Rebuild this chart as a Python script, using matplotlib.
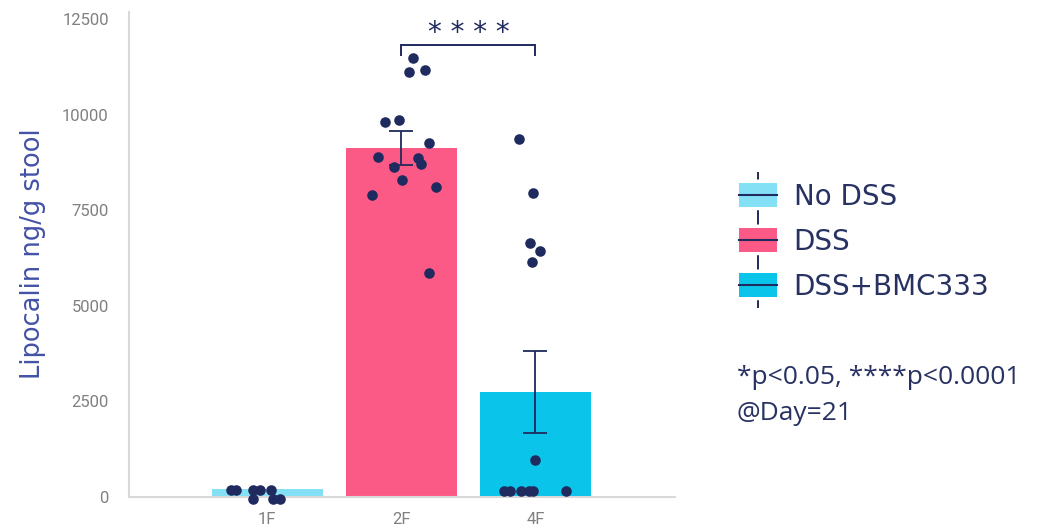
import matplotlib
matplotlib.use("Agg")
import matplotlib.pyplot as plt
import numpy as np
from matplotlib.patches import Patch, Rectangle
from matplotlib.lines import Line2D
from matplotlib.legend_handler import HandlerBase

# ---- data -------------------------------------------------------------
categories = ["1F", "2F", "4F"]
groups = ["No DSS", "DSS", "DSS+BMC333"]
means = [210, 9130, 2740]
sems = [0, 450, 1065]

points_1f = [175, 175, 175, 175, -52, 175, -40, -52]
points_2f = [11472, 11106, 11174, 9806, 9859, 9249, 8899, 8857, 8638, 8700,
             8298, 8107, 7897, 5866]
points_4f = [9362, 7942, 6634, 6425, 6137, 976, 160, 160, 160, 160, 160, 160]

# horizontal jitter of the individual dots (in category units)
jitter_1f = [-0.27, -0.23, -0.106, -0.057, -0.106, 0.03, 0.042, 0.097]
jitter_2f = [0.088, 0.056, 0.173, -0.121, -0.016, 0.205, -0.175, 0.123,
             -0.056, 0.150, 0.004, 0.257, -0.22, 0.203]
jitter_4f = [-0.121, -0.021, -0.041, 0.031, -0.026, -0.001, -0.235, -0.19,
             -0.11, -0.046, -0.016, 0.227]

sig_pair = ("2F", "4F")
sig_label = "* * * *"
sig_height = 11820

yticks = [0, 2500, 5000, 7500, 10000, 12500]

# ---- style ------------------------------------------------------------
bar_colors = ["#84E1F5", "#FC5A86", "#0BC4EA"]
navy = "#1F2A5E"
text_navy = "#283262"
axis_gray = "#D9D9D9"
tick_gray = "#808080"
label_blue = "#4352A6"

W, H = 1053, 529
fig = plt.figure(figsize=(W / 100, H / 100), dpi=100)
ax = fig.add_axes([129 / W, 1 - 497 / H, (675 - 129) / W, (497 - 12) / H])

x = np.arange(1, len(categories) + 1)
ax.bar(x, means, width=0.83, color=bar_colors, zorder=1)
ax.errorbar(x[1:], means[1:], yerr=sems[1:], fmt="none", ecolor=navy,
            elinewidth=1.3, capsize=8.3, capthick=1.3, zorder=2)

for xi, pts, jit in zip(x, [points_1f, points_2f, points_4f],
                        [jitter_1f, jitter_2f, jitter_4f]):
    ax.scatter(xi + np.array(jit), pts, s=58, color=navy, zorder=3,
               linewidths=0, clip_on=False)

# significance bracket
x1 = x[categories.index(sig_pair[0])]
x2 = x[categories.index(sig_pair[1])]
drop = 260
ax.plot([x1, x1, x2, x2], [sig_height - drop, sig_height, sig_height,
        sig_height - drop], color=navy, lw=1.4, zorder=3,
        solid_joinstyle="miter", clip_on=False)
ax.text((x1 + x2) / 2, sig_height + 110, sig_label, ha="center",
        va="baseline", fontsize=20, color=navy, family="DejaVu Sans")

ax.set_xlim(-0.03, 4.04)
ax.set_ylim(0, 12683)
ax.set_xticks(x)
ax.set_xticklabels(categories)
ax.set_yticks(yticks)
ax.set_yticklabels([str(v) for v in yticks])
ax.tick_params(length=0, labelsize=12, labelcolor=tick_gray)
ax.tick_params(axis="y", pad=14.5)
ax.tick_params(axis="x", pad=11)
for lab in ax.get_xticklabels() + ax.get_yticklabels():
    lab.set_family("Roboto")
for side in ("top", "right"):
    ax.spines[side].set_visible(False)
for side in ("left", "bottom"):
    ax.spines[side].set_color(axis_gray)
    ax.spines[side].set_linewidth(1.5)

fig.text(33 / W, 1 - 254 / H, "Lipocalin ng/g stool", rotation=90,
         ha="center", va="center", fontsize=18.5, color=label_blue,
         family="DejaVu Sans")


# legend glyph: coloured box with a median line and a dashed whisker
class BoxHandler(HandlerBase):
    def create_artists(self, legend, orig_handle, xdescent, ydescent,
                       width, height, fontsize, trans):
        px = 0.72
        cx = -xdescent + width / 2
        cy = -ydescent + height / 2
        bh = 24 * px
        wh = 22.75 * px
        whisker = Line2D([cx, cx], [cy - wh, cy + wh], color=navy, lw=1.4,
                         ls=(0, (4, 2.6)), transform=trans)
        box = Rectangle((-xdescent, cy - bh / 2), width, bh,
                        facecolor=orig_handle.get_facecolor(),
                        edgecolor="none", transform=trans)
        med = Line2D([-xdescent, -xdescent + width], [cy, cy], color=navy,
                     lw=1.5, transform=trans)
        return [whisker, box, med]


handles = [Patch(facecolor=c) for c in bar_colors]
leg = fig.legend(handles, groups, handler_map={Patch: BoxHandler()},
                 loc="center left", bbox_to_anchor=(739 / W, 1 - 241.7 / H),
                 frameon=False, fontsize=20, handlelength=1.368,
                 handleheight=1.0, handletextpad=0.6, labelspacing=0.615,
                 borderpad=0, borderaxespad=0)
for t in leg.get_texts():
    t.set_color(text_navy)
    t.set_family("DejaVu Sans")

fig.text(736.7 / W, 1 - 384 / H, "*p<0.05, ****p<0.0001", ha="left",
         va="baseline", fontsize=19, color=text_navy, family="Open Sans")
fig.text(736.7 / W, 1 - 420 / H, "@Day=21", ha="left", va="baseline",
         fontsize=19, color=text_navy, family="Open Sans")

fig.savefig("out.png", dpi=100)
